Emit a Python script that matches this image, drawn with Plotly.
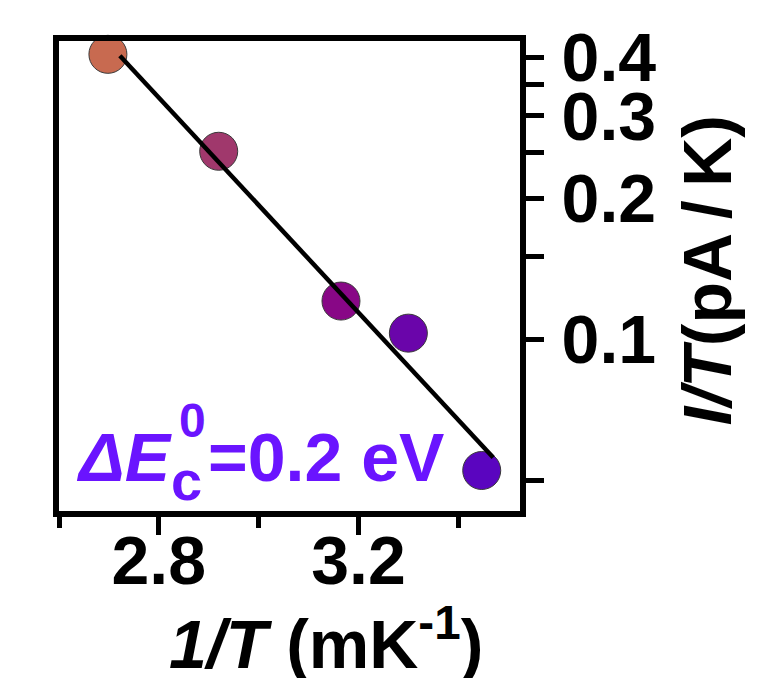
import numpy as np
import plotly.graph_objects as go

# Arrhenius-type data: inverse temperature vs. normalised current
inv_T = [2.698, 2.920, 3.165, 3.300, 3.447]          # 1/T (mK^-1)
i_over_T = [0.406, 0.252, 0.1206, 0.103, 0.0524]     # I/T (pA/K)

# x extent of the fitted line
fit_x_range = [2.722, 3.470]

x_major = [2.8, 3.2]
x_major_text = ["2.8", "3.2"]
x_minor = [2.6, 3.0, 3.4]
y_ticks = [0.05, 0.1, 0.15, 0.2, 0.25, 0.3, 0.35, 0.4]
y_tick_text = ["", "0.1", "", "0.2", "", "0.3", "", "0.4"]

point_colors = ["#c86a50", "#a0386c", "#880786", "#6a05aa", "#5a05bf"]
label_color = "#6a14ff"
FONT = "Liberation Sans, Arial, sans-serif"

# least-squares fit of log10(I/T) against 1/T
slope, intercept = np.polyfit(np.array(inv_T), np.log10(i_over_T), 1)
fit_x = np.array(fit_x_range)
fit_y = 10 ** (slope * fit_x + intercept)

fig = go.Figure()
fig.add_trace(go.Scatter(
    x=inv_T, y=i_over_T, mode="markers",
    marker=dict(size=38, color=point_colors, line=dict(color="#3a3a3a", width=1)),
    showlegend=False, cliponaxis=False,
))
fig.add_trace(go.Scatter(
    x=fit_x, y=fit_y, mode="lines",
    line=dict(color="black", width=4.5), showlegend=False,
))

L, R, T, B = 59, 257, 41, 167
W, H = 777, 678
pw, ph = W - L - R, H - T - B


def px(xp):
    return (xp - L) / pw


def py(yp):
    return (H - B - yp) / ph


fig.update_layout(
    width=W, height=H,
    margin=dict(l=L, r=R, t=T, b=B),
    paper_bgcolor="white", plot_bgcolor="white",
    font=dict(family=FONT, size=68, color="black", weight="bold"),
    xaxis=dict(
        range=[2.6, 3.5237],
        showline=True, linewidth=6, linecolor="black", mirror=True,
        showgrid=False, zeroline=False,
        tickmode="array", tickvals=x_major, ticktext=x_major_text,
        ticks="outside", ticklen=18, tickwidth=5, tickcolor="black",
        ticklabelstandoff=-33,
        minor=dict(tickmode="array", tickvals=x_minor, ticks="outside",
                   ticklen=11, tickwidth=5, tickcolor="black", showgrid=False),
        tickfont=dict(family=FONT, size=68, color="black", weight="bold"),
    ),
    yaxis=dict(
        type="log", side="right",
        range=[-1.3672, -0.363],
        showline=True, linewidth=6, linecolor="black", mirror=True,
        showgrid=False, zeroline=False,
        tickmode="array", tickvals=y_ticks, ticktext=y_tick_text,
        ticks="outside", ticklen=18, tickwidth=5, tickcolor="black",
        ticklabelstandoff=4,
        tickfont=dict(family=FONT, size=68, color="black", weight="bold"),
    ),
)

# axis titles
fig.add_annotation(
    xref="paper", yref="paper", x=px(325.5), y=py(638.7),
    xanchor="center", yanchor="middle", showarrow=False,
    text="<i>1/T</i> (mK<sup>-1</sup>)",
    font=dict(family=FONT, size=68, color="black", weight="bold"),
)
fig.add_annotation(
    xref="paper", yref="paper", x=px(706), y=py(270.5),
    xanchor="center", yanchor="middle", showarrow=False, textangle=-90,
    text="<i>I/T</i>(pA\u2009/\u2009K)",
    font=dict(family=FONT, size=68, color="black", weight="bold"),
)

# activation energy label
lab = dict(xref="paper", yref="paper", showarrow=False, xanchor="left", yanchor="middle")
fig.add_annotation(**lab, x=px(74), y=py(456.5), text="<i>ΔE</i>",
                   font=dict(family=FONT, size=68, color=label_color, weight="bold"))
fig.add_annotation(**lab, x=px(169), y=py(480), text="c",
                   font=dict(family=FONT, size=56, color=label_color, weight="bold"))
fig.add_annotation(**lab, x=px(177), y=py(420), text="0",
                   font=dict(family=FONT, size=48, color=label_color, weight="bold"))
fig.add_annotation(**lab, x=px(206), y=py(456.5), text="=0.2 eV",
                   font=dict(family=FONT, size=68, color=label_color, weight="bold"))

fig.write_html("out.html")
